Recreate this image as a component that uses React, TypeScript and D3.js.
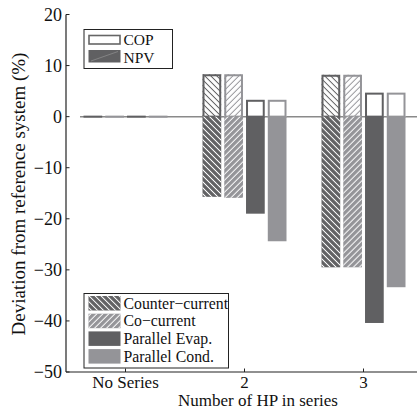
import React from "react";
import * as d3 from "d3";

const categories = ["No Series", "2", "3"];
const seriesNames = ["Counter\u2212current", "Co\u2212current", "Parallel Evap.", "Parallel Cond."];
const copCounter = [0, 8.3, 8.2];
const copCo = [0, 8.3, 8.2];
const copEvap = [0, 3.3, 4.7];
const copCond = [0, 3.3, 4.7];
const npvCounter = [0, -15.7, -29.5];
const npvCo = [0, -15.9, -29.5];
const npvEvap = [0, -19.0, -40.4];
const npvCond = [0, -24.4, -33.4];
const yTicks = [20, 10, 0, -10, -20, -30, -40, -50];

const copSeries = [copCounter, copCo, copEvap, copCond];
const npvSeries = [npvCounter, npvCo, npvEvap, npvCond];

const DARK = "#606062";
const LIGHT = "#949498";
const FONT = "Liberation Serif, Times New Roman, DejaVu Serif, serif";
const tstyle = { fontFamily: FONT };

export default function App() {
  const W = 417, H = 410;
  const y = d3.scaleLinear().domain([-50, 20]).range([372, 14.5]);
  const x = d3.scaleLinear().domain([0.5, 3.5]).range([66, 423]);
  const inner = d3.scaleBand<number>().domain([0, 1, 2, 3]).range([-42, 42]).paddingInner(0.14);
  const bw = inner.bandwidth();
  const colors = [DARK, LIGHT, DARK, LIGHT];
  const hatch = ["back", "fwd", null, null];

  const bars: React.ReactNode[] = [];
  categories.forEach((c, ci) => {
    const cx = x(ci + 1);
    seriesNames.forEach((s, si) => {
      const bx = cx + (inner(si) as number);
      const cop = copSeries[si][ci];
      const npv = npvSeries[si][ci];
      const col = colors[si];
      const h = hatch[si];
      if (cop !== 0) {
        const y0 = y(cop), y1 = y(0);
        bars.push(
          <g key={`cop-${ci}-${si}`}>
            <rect x={bx} y={y0} width={bw} height={y1 - y0} fill="#fff" />
            {h && <rect x={bx} y={y0} width={bw} height={y1 - y0} fill={`url(#${h}-${si === 0 ? "d" : "l"}-onwhite)`} />}
            <rect x={bx + 1} y={y0 + 1} width={bw - 2} height={y1 - y0 - 1} fill="none" stroke={col} strokeWidth={2} />
          </g>
        );
      }
      if (npv !== 0) {
        const y0 = y(0), y1 = y(npv);
        bars.push(
          <g key={`npv-${ci}-${si}`}>
            <rect x={bx} y={y0} width={bw} height={y1 - y0} fill={col} />
            {h && <rect x={bx} y={y0} width={bw} height={y1 - y0} fill={`url(#${h}-white)`} />}
          </g>
        );
      }
      if (cop === 0 && npv === 0) {
        bars.push(
          <line key={`z-${ci}-${si}`} x1={bx} x2={bx + bw} y1={y(0)} y2={y(0)} stroke={col} strokeWidth={2} />
        );
      }
    });
  });

  const legendRows = seriesNames.map((s, i) => {
    const top = 296 + i * 17.7;
    return (
      <g key={s}>
        <rect x={88.5} y={top} width={32} height={14.5} fill={colors[i]} />
        {hatch[i] && <rect x={88.5} y={top} width={32} height={14.5} fill={`url(#${hatch[i]}-white)`} />}
        <text x={123.5} y={top + 12.5} fontSize={15.8} style={tstyle} fill="#111">{s}</text>
      </g>
    );
  });

  return (
    <svg width={W} height={H} style={{ position: "absolute", left: 0, top: 0 }}>
      <defs>
        <pattern id="back-white" patternUnits="userSpaceOnUse" width={8} height={4.24} patternTransform="rotate(45)">
          <line x1={0} x2={8} y1={2.12} y2={2.12} stroke="#fff" strokeWidth={1} />
        </pattern>
        <pattern id="fwd-white" patternUnits="userSpaceOnUse" width={8} height={4.24} patternTransform="rotate(-45)">
          <line x1={0} x2={8} y1={2.12} y2={2.12} stroke="#fff" strokeWidth={1} />
        </pattern>
        <pattern id="back-d-onwhite" patternUnits="userSpaceOnUse" width={8} height={4.24} patternTransform="rotate(45)">
          <line x1={0} x2={8} y1={2.12} y2={2.12} stroke={DARK} strokeWidth={1} />
        </pattern>
        <pattern id="fwd-l-onwhite" patternUnits="userSpaceOnUse" width={8} height={4.24} patternTransform="rotate(-45)">
          <line x1={0} x2={8} y1={2.12} y2={2.12} stroke={LIGHT} strokeWidth={1} />
        </pattern>
        <clipPath id="plotclip">
          <rect x={66} y={0} width={W - 66} height={372} />
        </clipPath>
      </defs>
      <rect width={W} height={H} fill="#fff" />
      <line x1={80} x2={W} y1={y(0)} y2={y(0)} stroke="#8a8a8a" strokeWidth={1.5} />
      <g clipPath="url(#plotclip)">{bars}</g>

      {/* axes */}
      <line x1={66} x2={66} y1={y(20)} y2={372} stroke="#222" strokeWidth={1.2} />
      <line x1={66} x2={W} y1={372} y2={372} stroke="#222" strokeWidth={1.2} />
      {yTicks.map((t) => (
        <g key={t}>
          <line x1={66} x2={69.5} y1={y(t)} y2={y(t)} stroke="#222" strokeWidth={1} />
          <text x={62} y={y(t)} dy="0.34em" textAnchor="end" fontSize={18} style={tstyle} fill="#111">
            {t < 0 ? `\u2212${Math.abs(t)}` : `${t}`}
          </text>
        </g>
      ))}
      {categories.map((c, ci) => (
        <g key={c}>
          <line x1={x(ci + 1)} x2={x(ci + 1)} y1={372} y2={368.5} stroke="#222" strokeWidth={1} />
          <text x={x(ci + 1)} y={387.5} textAnchor="middle" fontSize={17} style={tstyle} fill="#111">{c}</text>
        </g>
      ))}
      <text x={258} y={406} textAnchor="middle" fontSize={17} style={tstyle} fill="#111">Number of HP in series</text>
      <text transform={`translate(25,194) rotate(-90)`} textAnchor="middle" fontSize={19} style={tstyle} fill="#111">
        Deviation from reference system (%)
      </text>

      {/* top legend */}
      <rect x={84} y={29.5} width={88.5} height={39} fill="#fff" stroke="#222" strokeWidth={1} />
      <rect x={89} y={35.5} width={31} height={8.5} fill="#fff" stroke="#666" strokeWidth={1.6} />
      <text x={123.5} y={45} fontSize={15.5} style={tstyle} fill="#111">COP</text>
      <rect x={88.5} y={50} width={32} height={12.5} fill={DARK} />
      <line x1={91} x2={118} y1={61} y2={51.5} stroke="#9a9a9a" strokeWidth={0.6} />
      <text x={123.5} y={62.5} fontSize={15.5} style={tstyle} fill="#111">NPV</text>

      {/* bottom legend */}
      <rect x={84} y={293.5} width={144.5} height={74.5} fill="#fff" stroke="#222" strokeWidth={1} />
      {legendRows}
    </svg>
  );
}
